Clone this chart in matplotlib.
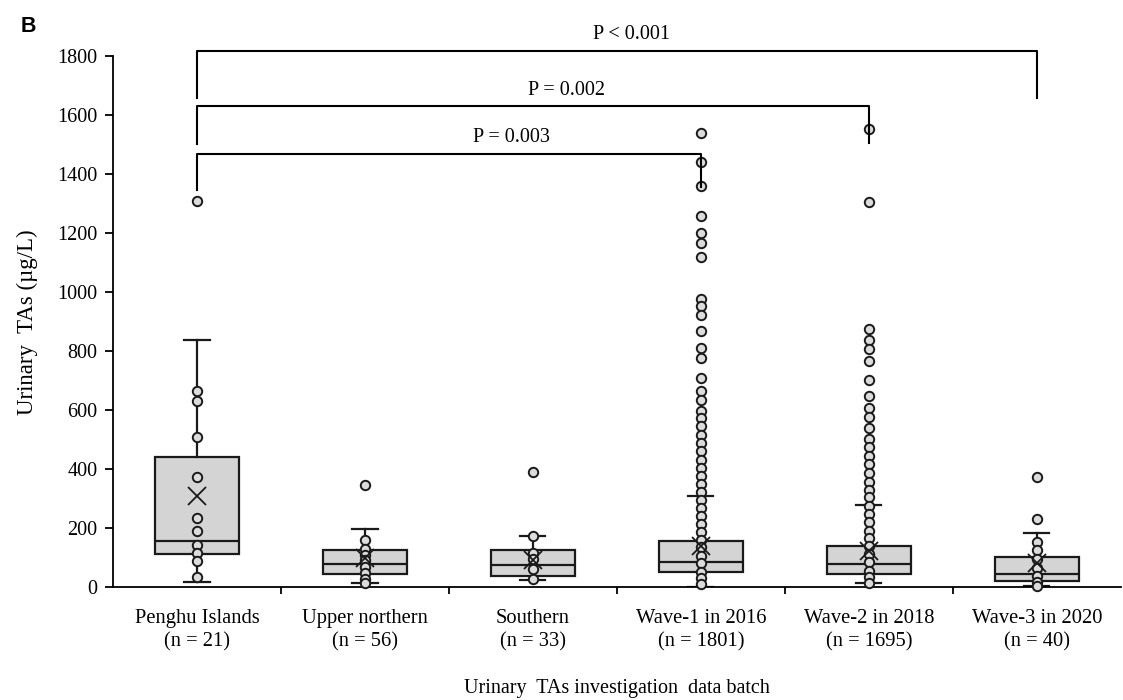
import numpy as np
import matplotlib
matplotlib.use("Agg")
import matplotlib.pyplot as plt

# categories and box statistics (ug/L)
groups = ["Penghu Islands", "Upper northern", "Southern",
          "Wave-1 in 2016", "Wave-2 in 2018", "Wave-3 in 2020"]
n_counts = [21, 56, 33, 1801, 1695, 40]
q1 = [112, 44, 37, 51, 44, 20]
med = [156, 78, 75, 85, 78, 44]
q3 = [441, 125, 125, 156, 140, 102]
whis_lo = [17, 14, 24, 0, 14, 3]
whis_hi = [837, 197, 173, 308, 279, 183]
means = [308, 98, 92, 139, 122, 81]

# individual points drawn by the original chart (inner points + outliers)
pts_penghu = [1310, 664, 631, 508, 373, 234, 190, 142, 115, 88, 34]
pts_upper = [346, 159, 129, 108, 92, 69, 47, 27, 14]
pts_south = [391, 173, 115, 95, 61, 27]
pts_wave1 = [1539, 1440, 1359, 1258, 1200, 1166, 1119, 976, 952, 922, 868,
             810, 776, 708, 664, 634, 598, 572, 545, 515, 488, 460, 432, 403,
             377, 349, 321, 295, 268, 240, 214, 185, 160, 134, 106, 80, 52,
             29, 10]
pts_wave2 = [1553, 1306, 875, 837, 807, 767, 702, 649, 607, 577, 538, 502,
             473, 445, 417, 386, 357, 330, 304, 276, 247, 219, 191, 165, 140,
             112, 84, 55, 33, 14]
pts_wave3 = [373, 231, 153, 125, 95, 65, 37, 18, 3]
points = [pts_penghu, pts_upper, pts_south, pts_wave1, pts_wave2, pts_wave3]

# significance brackets: (from group, to group, bar height, left leg end, right leg end, label, label x)
brackets = [
    (1, 6, 1818, 1657, 1657, "P < 0.001", 3.59),
    (1, 5, 1630, 1502, 1505, "P = 0.002", 3.20),
    (1, 4, 1468, 1346, 1357, "P = 0.003", 2.875),
]

plt.rcParams['font.family'] = ['Liberation Serif', 'DejaVu Serif']
fs = 14.5

fig = plt.figure(figsize=(11.23, 7.0), dpi=100)
ax = fig.add_axes([0.1006, 0.1614, 0.8974, 0.7586])

pos = np.arange(1, len(groups) + 1)
stats = []
for i in range(len(groups)):
    stats.append(dict(med=med[i], q1=q1[i], q3=q3[i],
                      whislo=whis_lo[i], whishi=whis_hi[i], mean=means[i]))

ax.bxp(stats, positions=pos, widths=0.5, showfliers=False, showmeans=False,
       patch_artist=True,
       boxprops=dict(facecolor='#d4d4d4', edgecolor='#1a1a1a', linewidth=1.6),
       medianprops=dict(color='#1a1a1a', linewidth=1.6),
       whiskerprops=dict(color='#1a1a1a', linewidth=1.6),
       capprops=dict(color='#1a1a1a', linewidth=1.6),
       capwidths=0.15, zorder=2)

for i, p in enumerate(points):
    ax.scatter(np.full(len(p), pos[i]), p, s=46, facecolor='#dcdcdc',
               edgecolor='#1a1a1a', linewidth=1.4, zorder=3, clip_on=False)

ax.plot(pos, means, linestyle='none', marker='x', markersize=13,
        markeredgewidth=1.3, color='#1a1a1a', zorder=4)

for a, b, h, leg_a, leg_b, lab, lx in brackets:
    ax.plot([a, a, b, b], [leg_a, h, h, leg_b], color='black', lw=1.5,
            clip_on=False, zorder=5)
    ax.text(lx, h + 22, lab, ha='center', va='bottom', fontsize=fs)

ax.set_xlim(0.5, len(groups) + 0.5)
ax.set_ylim(0, 1800)
ax.set_yticks(np.arange(0, 1801, 200))
ax.set_xticks(np.arange(1.5, len(groups), 1.0))
ax.set_xticklabels([])
ax.tick_params(axis='y', labelsize=fs, length=6, width=1.3, direction='out', pad=5)
ax.tick_params(axis='x', length=5, width=1.3, direction='out')
for i, g in enumerate(groups):
    ax.text(pos[i], -76, g + "\n(n = " + str(n_counts[i]) + ")", ha='center',
            va='top', fontsize=14.8, linespacing=1.3)

ax.spines['top'].set_visible(False)
ax.spines['right'].set_visible(False)
ax.spines['left'].set_linewidth(1.3)
ax.spines['bottom'].set_linewidth(1.3)

fig.text(0.024, 0.54, "Urinary  TAs (\u00b5g/L)", rotation=90, ha='center',
         va='center', fontsize=16.5)
fig.text(0.5495, 0.017, "Urinary  TAs investigation  data batch", ha='center',
         va='center', fontsize=fs)
fig.text(0.018, 0.955, "B", fontsize=15.5, fontweight='bold',
         family=['Liberation Sans', 'DejaVu Sans'])

fig.savefig("out.png", dpi=100, facecolor='white')
